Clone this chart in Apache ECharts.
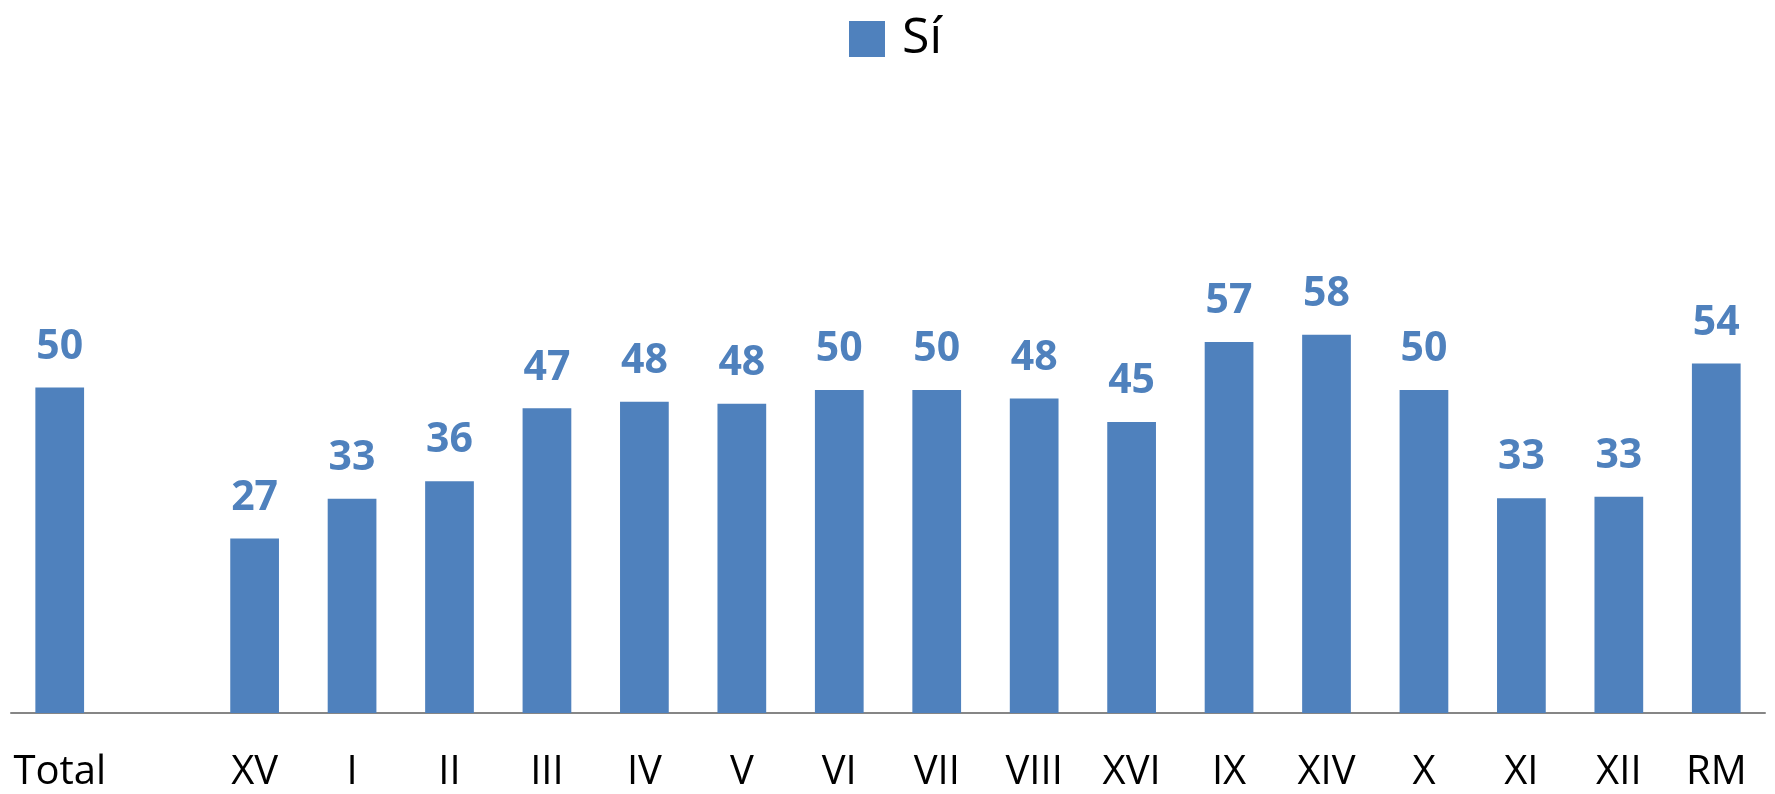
<!DOCTYPE html>
<html>
<head>
<meta charset="utf-8">
<script src="https://cdn.jsdelivr.net/npm/echarts@6/dist/echarts.min.js"></script>
<style>
  html, body { margin: 0; padding: 0; background: #fff; }
  #chart { width: 1775px; height: 794px; }
</style>
</head>
<body>
<div id="chart"></div>
<script>
// categorias (la segunda queda vacia, como en el original)
const categories = ['Total', '', 'XV', 'I', 'II', 'III', 'IV', 'V', 'VI', 'VII', 'VIII', 'XVI', 'IX', 'XIV', 'X', 'XI', 'XII', 'RM']
// porcentaje "Sí"
const siValues = [50, null, 26.8, 32.9, 35.6, 46.8, 47.8, 47.5, 49.6, 49.6, 48.3, 44.7, 57.0, 58.1, 49.6, 33.0, 33.2, 53.7]
const seriesName = 'Sí'

const chart = echarts.init(document.getElementById('chart'))
const blue = '#4F81BD'

const option = {
  animation: false,
  textStyle: { fontFamily: 'Open Sans' },
  legend: {
    data: [seriesName],
    top: 14,
    left: 849,
    padding: 0,
    itemWidth: 36,
    itemHeight: 36,
    icon: 'rect',
    textStyle: {
      fontSize: 50,
      color: '#000',
      fontFamily: 'Open Sans',
      padding: [4, 0, 0, 12]
    }
  },
  grid: {
    left: 11,
    right: 10,
    top: 62,
    bottom: 81
  },
  xAxis: {
    type: 'category',
    data: categories,
    axisTick: { show: false },
    axisLine: { lineStyle: { color: '#868686', width: 2 } },
    axisLabel: {
      interval: 0,
      margin: 40,
      fontSize: 40,
      color: '#000',
      fontFamily: 'Open Sans'
    }
  },
  yAxis: {
    type: 'value',
    min: 0,
    max: 100,
    show: false,
    splitLine: { show: false }
  },
  series: [
    {
      name: seriesName,
      type: 'bar',
      data: siValues,
      barWidth: '50%',
      itemStyle: { color: blue },
      label: {
        show: true,
        position: 'top',
        distance: 20,
        fontSize: 41,
        fontWeight: 'bold',
        color: blue,
        fontFamily: 'Open Sans',
        formatter: p => Math.round(p.value)
      }
    }
  ]
}

chart.setOption(option)
</script>
</body>
</html>
